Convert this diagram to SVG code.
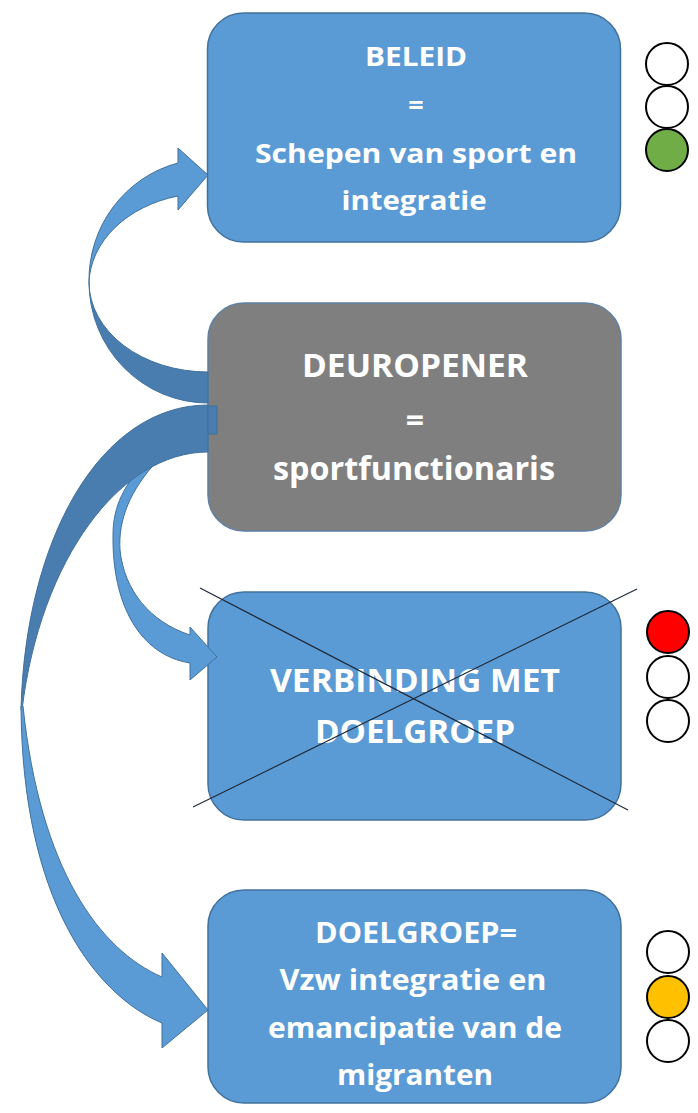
<svg xmlns="http://www.w3.org/2000/svg" width="698" height="1113" viewBox="0 0 698 1113">
<style>
.box{fill:#5b9bd5;stroke:#41719c;stroke-width:1.5}
.gray{fill:#7f7f7f;stroke:#5f80a3;stroke-width:1.5}
.t{font-family:"Open Sans","Liberation Sans",sans-serif;font-weight:700;fill:#ffffff;text-anchor:middle}
.front{fill:#5b9bd5;stroke:#41719c;stroke-width:1}
.back{fill:#497daf;stroke:#41719c;stroke-width:1}
.lamp{stroke:#000000;stroke-width:2;fill:#ffffff}
.cross{stroke:#1f2a3a;stroke-width:1.2}
</style>
<rect width="698" height="1113" fill="#ffffff"/>

<g id="node-beleid">
<rect class="box" x="207.5" y="13" width="413" height="229" rx="36"/>
<text class="t" font-size="27" x="416" y="66" textLength="102" lengthAdjust="spacingAndGlyphs">BELEID</text>
<text class="t" font-size="27" x="416" y="115">=</text>
<text class="t" font-size="27" x="416" y="163" textLength="322" lengthAdjust="spacingAndGlyphs">Schepen van sport en</text>
<text class="t" font-size="27" x="414" y="210" textLength="145" lengthAdjust="spacingAndGlyphs">integratie</text>
</g>

<g id="node-deuropener">
<rect class="gray" x="208" y="303" width="413" height="228" rx="36"/>
<text class="t" font-size="32" x="415" y="377" textLength="226" lengthAdjust="spacingAndGlyphs">DEUROPENER</text>
<text class="t" font-size="32" x="415" y="432">=</text>
<text class="t" font-size="32" x="414" y="480" textLength="282" lengthAdjust="spacingAndGlyphs">sportfunctionaris</text>
</g>

<g id="node-verbinding">
<rect class="box" x="208" y="592" width="413" height="228" rx="36"/>
<text class="t" font-size="33" x="415" y="692" textLength="290" lengthAdjust="spacingAndGlyphs">VERBINDING MET</text>
<text class="t" font-size="33" x="415" y="743" textLength="200" lengthAdjust="spacingAndGlyphs">DOELGROEP</text>
</g>

<g id="node-doelgroep">
<rect class="box" x="208" y="890" width="413" height="213" rx="36"/>
<text class="t" font-size="28" x="416" y="943" textLength="202" lengthAdjust="spacingAndGlyphs">DOELGROEP=</text>
<text class="t" font-size="28" x="413" y="990" textLength="267" lengthAdjust="spacingAndGlyphs">Vzw integratie en</text>
<text class="t" font-size="28" x="415" y="1038" textLength="294" lengthAdjust="spacingAndGlyphs">emancipatie van de</text>
<text class="t" font-size="28" x="415" y="1085" textLength="156" lengthAdjust="spacingAndGlyphs">migranten</text>
</g>

<g id="connectors">
<!-- arrow to VERBINDING (behind big arrow) -->
<path class="front" d="M 190 635 L 190 627 L 217 657 L 190 680 L 190 663 C 140 655, 112 605, 113 535 C 113 505, 125 485, 145 462 L 158 460 C 130 490, 118 520, 120 550 C 124 590, 150 622, 190 635 Z"/>
<!-- arrow to BELEID -->
<path class="back" d="M 208 403 A 119 121 0 0 1 89 282 A 119 90 0 0 0 208 372 Z"/>
<path class="front" d="M 208 175 L 178 148 L 178 163 A 119 121 0 0 0 89 282 A 118 92 0 0 1 178 196 L 178 210 Z"/>
<!-- arrow to DOELGROEP -->
<path class="back" d="M 208 405 C 100 405, 25 540, 21 710 L 22 710 C 40 560, 120 452, 208 452 Z"/>
<rect class="back" x="208" y="406" width="9" height="28"/>
<path class="front" d="M 21 706 C 22 900, 95 995, 162 1023 L 162 1048 L 208 1010 L 162 953 L 162 977 C 100 950, 40 870, 23 706 Z"/>
</g>

<g id="lights-beleid">
<circle class="lamp" cx="667" cy="64" r="21"/>
<circle class="lamp" cx="667" cy="107" r="21"/>
<circle class="lamp" cx="667" cy="150" r="21" fill="#70ad47" style="fill:#70ad47"/>
</g>
<g id="lights-verbinding">
<circle class="lamp" cx="668" cy="632" r="21" style="fill:#ff0000"/>
<circle class="lamp" cx="668" cy="677" r="21"/>
<circle class="lamp" cx="668" cy="721" r="21"/>
</g>
<g id="lights-doelgroep">
<circle class="lamp" cx="668" cy="952" r="21"/>
<circle class="lamp" cx="668" cy="997" r="21" style="fill:#ffc000"/>
<circle class="lamp" cx="668" cy="1041" r="21"/>
</g>

<g id="cross">
<line class="cross" x1="200" y1="588" x2="628" y2="810"/>
<line class="cross" x1="637" y1="589" x2="193" y2="807"/>
</g>
</svg>
